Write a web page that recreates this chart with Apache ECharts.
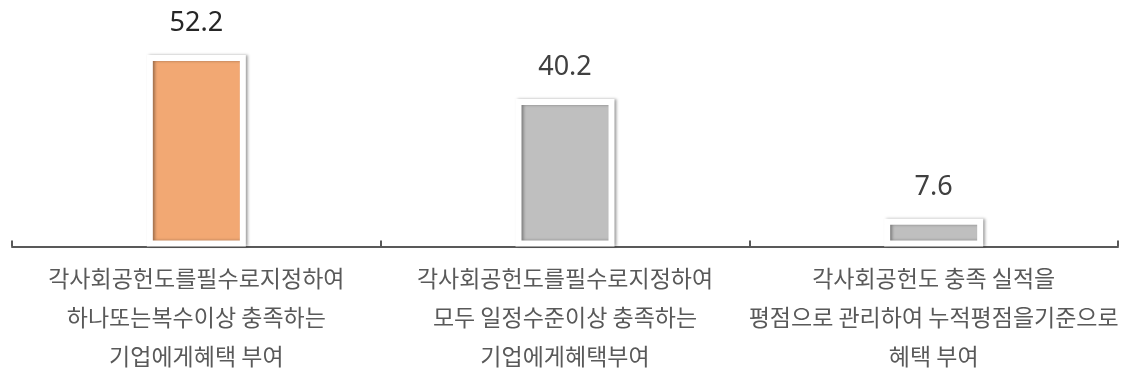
<!DOCTYPE html>
<html>
<head>
<meta charset="utf-8">
<script src="https://cdn.jsdelivr.net/npm/echarts@6/dist/echarts.min.js"></script>
<style>
  html, body { margin: 0; padding: 0; background: #fff; }
  #chart { width: 1131px; height: 379px; }
</style>
</head>
<body>
<div id="chart"></div>
<script>
let categories = [
  '각사회공헌도를필수로지정하여\n하나또는복수이상 충족하는\n기업에게혜택 부여',
  '각사회공헌도를필수로지정하여\n모두 일정수준이상 충족하는\n기업에게혜택부여',
  '각사회공헌도 충족 실적을\n평점으로 관리하여 누적평점을기준으로\n혜택 부여'
];
let values = [52.2, 40.2, 7.6];
let barColors = ['#F2A873', '#BFBFBF', '#BFBFBF'];
let labelColors = ['#262626', '#404040', '#404040'];

let myChart = echarts.init(document.getElementById('chart'));
let seriesData = [];
for (let i = 0; i < values.length; i++) {
  seriesData.push({
    value: values[i],
    itemStyle: { color: barColors[i] },
    label: { color: labelColors[i] }
  });
}
let option = {
  backgroundColor: '#fff',
  animation: false,
  grid: {
    left: 12,
    right: 13,
    top: 26.5,
    bottom: 132.5
  },
  xAxis: {
    type: 'category',
    data: categories,
    axisLine: {
      lineStyle: { color: '#595959', width: 2 }
    },
    axisTick: {
      show: true,
      inside: true,
      length: 6,
      lineStyle: { color: '#595959', width: 2 }
    },
    axisLabel: {
      interval: 0,
      margin: 12,
      color: '#595959',
      fontSize: 23,
      lineHeight: 39,
      fontFamily: 'Noto Sans CJK KR'
    }
  },
  yAxis: {
    type: 'value',
    min: 0,
    max: 60,
    show: false,
    splitLine: { show: false }
  },
  series: [
    {
      type: 'bar',
      barWidth: 99,
      data: seriesData,
      itemStyle: {
        borderColor: '#fff',
        borderWidth: 6,
        shadowColor: 'rgba(0,0,0,0.35)',
        shadowBlur: 3,
        shadowOffsetX: 2,
        shadowOffsetY: 0
      },
      label: {
        show: true,
        position: 'top',
        distance: 18,
        fontSize: 27,
        fontFamily: 'Noto Sans'
      }
    }
  ]
};
myChart.setOption(option);
</script>
</body>
</html>
